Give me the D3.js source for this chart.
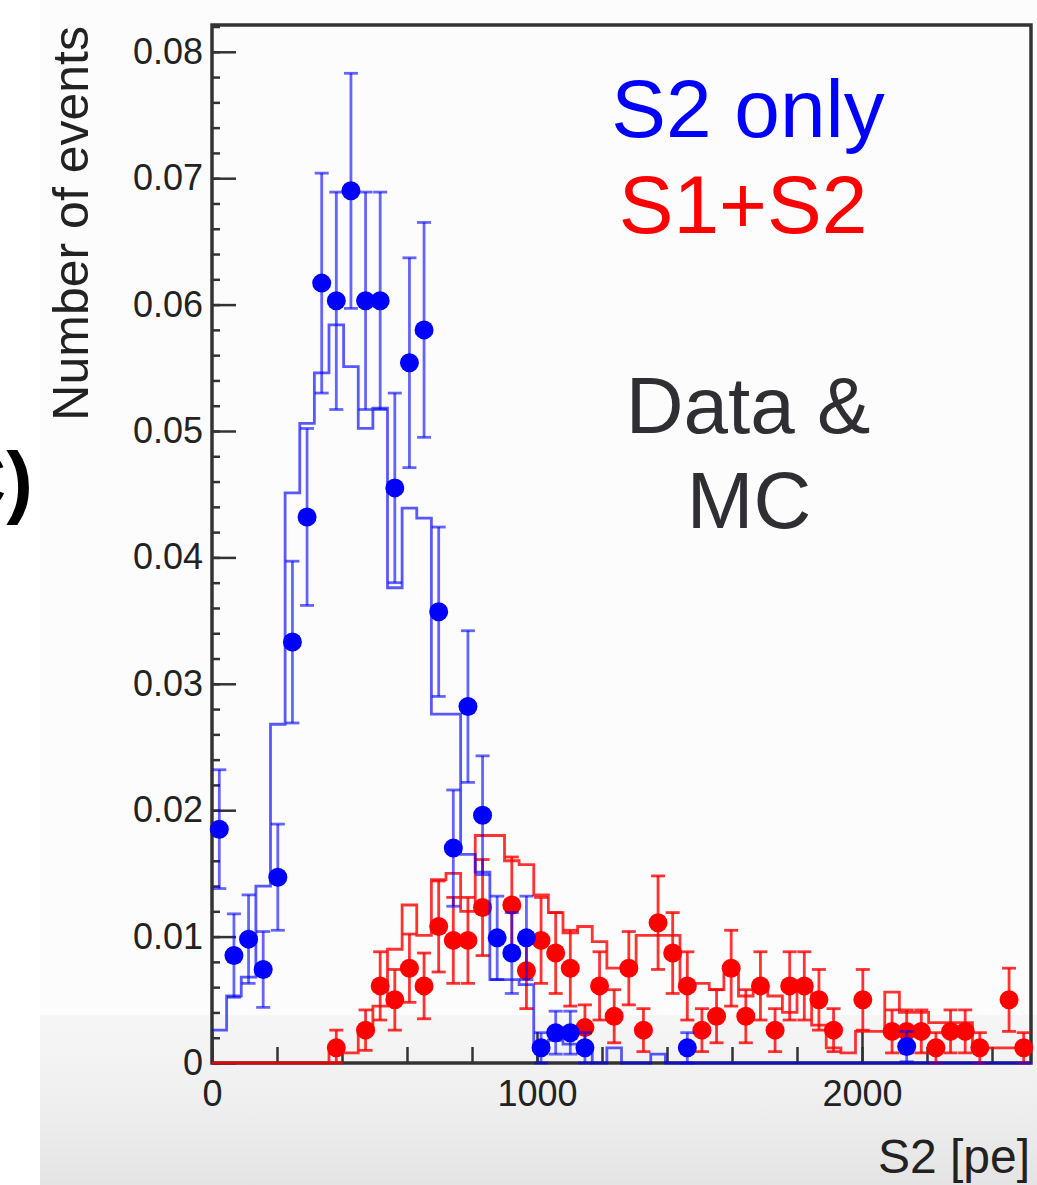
<!DOCTYPE html>
<html>
<head>
<meta charset="utf-8">
<script src="https://cdn.jsdelivr.net/npm/d3@7"></script>
<style>
  html, body { margin: 0; padding: 0; background: #ffffff; }
  svg { display: block; }
  text { font-family: "Liberation Sans", Arial, Helvetica, sans-serif; }
</style>
</head>
<body>
<svg id="chart" width="1037" height="1185"></svg>
<script>
// ---------------- DATA ----------------
const binWidth = 45;            // S2 [pe] per bin
const nBins = 56;               // 0 .. 2520 pe
const xTicksMajor = [0, 1000, 2000];
const yTicksMajor = [0, 0.01, 0.02, 0.03, 0.04, 0.05, 0.06, 0.07, 0.08];

// MC histograms (one value per bin)
const blueMC = [0.0026,0.0053,0.0068,0.0140,0.0268,0.0451,0.0506,0.0546,0.0584,0.0551,
                0.0502,0.0518,0.0376,0.0439,0.0431,0.0276,0.0276,0.0165,0.0151,0.0066,
                0.0066,0.0062,0.0010,0.0018,0.0015,0.0008,0,0.0012,0,0,
                0.0007,0,0,0,0,0,0,0,0,0,
                0,0,0,0,0,0,0,0,0,0,
                0,0,0,0,0,0];
const redMC  = [0,0,0,0,0,0,0,0,0.0008,0.0008,
                0.0025,0.0045,0.0090,0.0125,0.0101,0.0145,0.0150,0.0120,0.0180,0.0180,
                0.0160,0.0157,0.0133,0.0119,0.0103,0.0108,0.0096,0.0075,0.0075,0.0101,
                0.0101,0.0101,0.0063,0.0063,0.0058,0.0070,0.0053,0.0058,0.0053,0.0040,
                0.0060,0.0030,0.0012,0.0008,0.0025,0.0025,0.0056,0.0040,0.0040,0.0032,
                0.0032,0.0032,0.0012,0.0012,0.0012,0.0012];

// Data points: bin index, value, error
const blueBins = [0,1,2,3,4,5,6,7,8,9,10,11,12,13,14,15,16,17,18,19,20,21,22,23,24,25,32,47];
const blueVals = [0.0185,0.0085,0.0098,0.0074,0.0147,0.0333,0.0432,0.0617,0.0603,0.0690,
                  0.0603,0.0603,0.0455,0.0554,0.0580,0.0357,0.0170,0.0282,0.0196,0.0099,
                  0.0087,0.0099,0.0012,0.0024,0.0024,0.0012,0.0012,0.0013];
const blueErrs = [0.0047,0.0033,0.0035,0.0030,0.0042,0.0064,0.0070,0.0087,0.0086,0.0093,
                  0.0086,0.0086,0.0075,0.0083,0.0085,0.0067,0.0046,0.0060,0.0047,0.0033,
                  0.0032,0.0033,0.0012,0.0017,0.0017,0.0012,0.0012,0.0012];

const redBins = [8,10,11,12,13,14,15,16,17,18,20,21,22,23,24,25,26,27,28,29,
                 30,31,32,33,34,35,36,37,38,39,40,41,42,44,46,47,48,49,50,51,52,54,55];
const redVals = [0.0012,0.0026,0.0061,0.0050,0.0075,0.0061,0.0108,0.0097,0.0097,0.0123,
                 0.0125,0.0073,0.0097,0.0087,0.0075,0.0028,0.0061,0.0037,0.0075,0.0026,
                 0.0111,0.0087,0.0061,0.0026,0.0037,0.0075,0.0037,0.0061,0.0026,0.0061,
                 0.0061,0.0050,0.0026,0.0050,0.0025,0.0025,0.0025,0.0012,0.0025,0.0025,
                 0.0012,0.0050,0.0012];
const redErrs = [0.0014,0.0016,0.0027,0.0024,0.0027,0.0026,0.0036,0.0034,0.0034,0.0038,
                 0.0038,0.0030,0.0034,0.0032,0.0030,0.0018,0.0027,0.0021,0.0029,0.0017,
                 0.0037,0.0032,0.0027,0.0017,0.0021,0.0030,0.0021,0.0027,0.0017,0.0027,
                 0.0027,0.0024,0.0017,0.0024,0.0017,0.0017,0.0017,0.0012,0.0017,0.0017,
                 0.0012,0.0025,0.0012];

// ---------------- DRAW ----------------
(function () {
const svg = d3.select("#chart");
const W = 1037, H = 1185;
const pL = 212, pR = 1031, pT = 25, pB = 1063;

const defs = svg.append("defs");
const grad = defs.append("linearGradient").attr("id", "bg").attr("x1", 0).attr("x2", 0).attr("y1", 0).attr("y2", 1);
grad.append("stop").attr("offset", "0%").attr("stop-color", "#f6f6f6");
grad.append("stop").attr("offset", "45%").attr("stop-color", "#f0f0f0");
grad.append("stop").attr("offset", "100%").attr("stop-color", "#e4e4e4");
svg.append("rect").attr("x", 0).attr("y", 0).attr("width", W).attr("height", H).attr("fill", "#ffffff");
svg.append("rect").attr("x", 40).attr("y", 0).attr("width", W - 40).attr("height", 1015).attr("fill", "#fcfcfc");
svg.append("rect").attr("x", 40).attr("y", 1015).attr("width", W - 40).attr("height", H - 1015).attr("fill", "url(#bg)");

const x = d3.scaleLinear().domain([0, nBins * binWidth]).range([pL, pR]);
const y = d3.scaleLinear().domain([0, 0.08212]).range([pB, pT]);

const axisColor = "#333333";
const fmtY = d => d === 0 ? "0" : d3.format(".2f")(d);

const yMinor = d3.range(0, 0.0821, 0.002);
svg.append("g").attr("transform", `translate(${pL},0)`)
  .call(d3.axisLeft(y).tickValues(yMinor).tickSize(-8).tickFormat(""))
  .call(g => g.select(".domain").remove())
  .call(g => g.selectAll("line").attr("stroke", axisColor).attr("stroke-width", 2.5));
const xMinor = d3.range(0, 2521, 200);
svg.append("g").attr("transform", `translate(0,${pB})`)
  .call(d3.axisBottom(x).tickValues(xMinor).tickSize(-16).tickFormat(""))
  .call(g => g.select(".domain").remove())
  .call(g => g.selectAll("line").attr("stroke", axisColor).attr("stroke-width", 2.5));

svg.append("g").attr("transform", `translate(${pL},0)`)
  .call(d3.axisLeft(y).tickValues(yTicksMajor).tickSize(-24).tickPadding(9).tickFormat(fmtY))
  .call(g => g.select(".domain").remove())
  .call(g => g.selectAll("line").attr("stroke", axisColor).attr("stroke-width", 2.5))
  .call(g => g.selectAll("text").attr("font-size", 36).attr("fill", "#222")
      .style("font-family", "'Liberation Sans', Arial, sans-serif"));
svg.append("g").attr("transform", `translate(0,${pB})`)
  .call(d3.axisBottom(x).tickValues(xTicksMajor).tickSize(-31).tickPadding(17).tickFormat(d3.format("d")))
  .call(g => g.select(".domain").remove())
  .call(g => g.selectAll("line").attr("stroke", axisColor).attr("stroke-width", 2.5))
  .call(g => g.selectAll("text").attr("font-size", 36).attr("fill", "#222")
      .style("font-family", "'Liberation Sans', Arial, sans-serif"));

svg.append("rect").attr("x", pL).attr("y", pT).attr("width", pR - pL).attr("height", pB - pT)
  .attr("fill", "none").attr("stroke", axisColor).attr("stroke-width", 3.5);

function stepPts(arr) {
  const pts = arr.map((v, i) => [i * binWidth, v]);
  pts.push([arr.length * binWidth, arr[arr.length - 1]]);
  return pts;
}
const stepLine = d3.line().x(d => x(d[0])).y(d => y(d[1])).curve(d3.curveStepAfter);

function drawData(color, bins, vals, errs, alpha) {
  const g = svg.append("g");
  const pts = bins.map((b, i) => ({ cx: (b + 0.5) * binWidth, v: vals[i], e: errs[i] }));
  g.selectAll("line.eb").data(pts).enter().append("line")
    .attr("x1", d => x(d.cx)).attr("x2", d => x(d.cx))
    .attr("y1", d => y(d.v + d.e)).attr("y2", d => y(Math.max(0, d.v - d.e)))
    .attr("stroke", color).attr("stroke-width", 2.8).attr("stroke-opacity", alpha);
  ["top", "bot"].forEach(side => {
    g.selectAll("line.cap" + side).data(pts).enter().append("line")
      .attr("x1", d => x(d.cx) - 7).attr("x2", d => x(d.cx) + 7)
      .attr("y1", d => y(side === "top" ? d.v + d.e : Math.max(0, d.v - d.e)))
      .attr("y2", d => y(side === "top" ? d.v + d.e : Math.max(0, d.v - d.e)))
      .attr("stroke", color).attr("stroke-width", 2.8).attr("stroke-opacity", alpha);
  });
  g.selectAll("circle").data(pts).enter().append("circle")
    .attr("cx", d => x(d.cx)).attr("cy", d => y(d.v)).attr("r", 9.5)
    .attr("fill", color);
}

svg.append("path").datum(stepPts(redMC)).attr("d", stepLine)
  .attr("fill", "none").attr("stroke", "#ff0000").attr("stroke-width", 2.8).attr("stroke-opacity", 0.8);
drawData("#ff0000", redBins, redVals, redErrs, 0.8);
svg.append("path").datum(stepPts(blueMC)).attr("d", stepLine)
  .attr("fill", "none").attr("stroke", "#0000ff").attr("stroke-width", 2.8).attr("stroke-opacity", 0.65);
drawData("#0000ff", blueBins, blueVals, blueErrs, 0.6);

function label(txt, cx, base, size, color, anchor, weight) {
  svg.append("text").attr("x", cx).attr("y", base).attr("text-anchor", anchor || "middle")
    .attr("font-size", size).attr("font-weight", weight || "normal").attr("fill", color).text(txt);
}
label("S2 only", 748, 137, 82, "#0000ff");
label("S1+S2", 743, 233, 82, "#ff0000");
label("Data &", 748, 433, 80, "#2e2e33");
label("MC", 749, 528, 80, "#2e2e33");

svg.append("text").attr("transform", "translate(88,26) rotate(-90)")
  .attr("text-anchor", "end").attr("font-size", 50).attr("fill", "#222").text("Number of events");
label("S2 [pe]", 1030, 1173, 48, "#222", "end");

// panel letter, partly cut off at the left edge as in the original slide
label("C)", 33, 508, 80, "#000", "end", "bold");
})();
</script>
</body>
</html>
